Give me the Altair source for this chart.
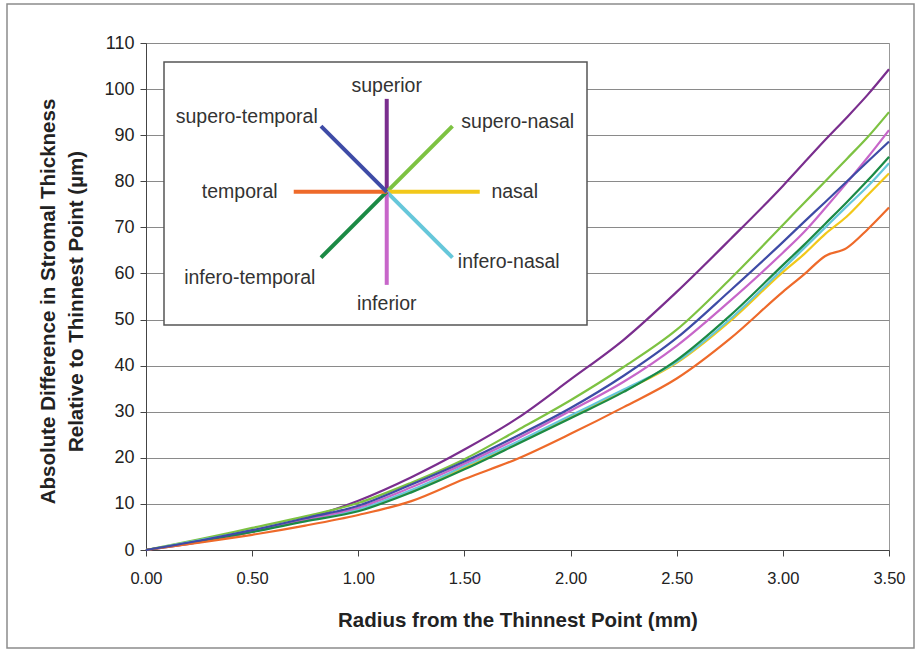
import math
import altair as alt
import pandas as pd

# ---------------- data ----------------
radius = [0, 0.25, 0.5, 0.75, 1.0, 1.25, 1.5, 1.75, 2.0, 2.25, 2.5, 2.75, 3.0, 3.1, 3.2, 3.3, 3.4, 3.5]

superior        = [0, 1.7, 4.0, 6.8, 10.7, 15.8, 21.8, 28.6, 37.0, 45.6, 56.0, 67.3, 79.0, 84.0, 89.0, 93.8, 98.8, 104.3]
supero_nasal    = [0, 2.3, 4.8, 7.3, 10.2, 14.6, 19.7, 26.0, 32.5, 39.7, 47.8, 58.7, 70.5, 75.3, 80.0, 84.8, 89.6, 95.0]
nasal           = [0, 2.0, 4.0, 6.4, 8.7, 12.8, 17.9, 23.2, 28.8, 34.5, 40.6, 49.6, 60.3, 64.2, 68.6, 72.3, 77.0, 81.7]
infero_nasal    = [0, 2.1, 4.2, 6.6, 8.8, 13.0, 18.2, 23.5, 29.2, 34.8, 40.8, 50.0, 61.0, 65.5, 70.0, 74.5, 78.9, 83.9]
inferior        = [0, 1.9, 4.0, 6.6, 9.2, 13.6, 18.7, 24.2, 30.2, 36.5, 44.3, 54.0, 64.5, 69.0, 74.2, 79.6, 85.2, 91.1]
infero_temporal = [0, 1.9, 3.9, 6.2, 8.4, 12.5, 17.5, 23.0, 28.6, 34.3, 41.2, 50.8, 61.8, 66.2, 70.8, 75.4, 80.2, 85.3]
temporal        = [0, 1.6, 3.3, 5.3, 7.6, 10.6, 15.4, 19.8, 25.2, 31.0, 37.2, 45.8, 56.0, 59.8, 63.8, 65.5, 69.6, 74.3]
supero_temporal = [0, 2.0, 4.3, 6.9, 9.6, 14.2, 19.2, 24.8, 30.8, 37.8, 46.0, 56.2, 66.8, 71.2, 75.5, 79.9, 84.3, 88.6]

names = ["superior", "supero-nasal", "nasal", "infero-nasal",
         "inferior", "infero-temporal", "temporal", "supero-temporal"]
series = [superior, supero_nasal, nasal, infero_nasal,
          inferior, infero_temporal, temporal, supero_temporal]
colors = ["#7A2E8E", "#7DC242", "#F2C81A", "#66C7DA",
          "#C766C9", "#1B8A45", "#EE6A2A", "#3E4BA6"]

x_ticks = [0, 0.5, 1.0, 1.5, 2.0, 2.5, 3.0, 3.5]
y_ticks = list(range(0, 111, 10))

# ---------------- layout ----------------
W, H = 743, 507
XMAX, YMAX = 3.5, 110
ux = XMAX / W   # data units per pixel
uy = YMAX / H

rows = []
for n, vals in zip(names, series):
    for r, v in zip(radius, vals):
        rows.append({"radius": r, "value": v, "dir": n})
df = pd.DataFrame(rows)

xs = alt.Scale(domain=[0, XMAX], nice=False, zero=False)
ys = alt.Scale(domain=[0, YMAX], nice=False)
cs = alt.Scale(domain=names, range=colors)

# compass-rose legend (inset)
cx, cy = 1.134, 77.7
ray_px = 93
angles = [90, 45, 0, -45, -90, -135, 180, 135]
label_off = [(0, -106), (131, -70), (128, 0), (122, 70),
             (0, 112), (-137, 86), (-147, 0), (-140, -75)]
leg = []
for n, a, (ox, oy) in zip(names, angles, label_off):
    ar = math.radians(a)
    leg.append({
        "dir": n,
        "x": cx, "y": cy,
        "x2": cx + ray_px * math.cos(ar) * ux,
        "y2": cy + ray_px * math.sin(ar) * uy,
        "lx": cx + ox * ux,
        "ly": cy - oy * uy,
    })
leg_df = pd.DataFrame(leg)

box_df = pd.DataFrame({"x": [(164 - 146) * ux], "x2": [(587 - 146) * ux],
                       "y": [(550 - 62) * uy], "y2": [(550 - 325) * uy]})

FONT = "Liberation Sans"

frame = alt.Chart(pd.DataFrame({"k": [0]})).mark_rect(
    fill="transparent", stroke="#8c8c8c", strokeWidth=1.5
).encode(
    x=alt.value(7 - 146), x2=alt.value(914 - 146),
    y=alt.value(4 - 43), y2=alt.value(648 - 43)
)

lines = alt.Chart(df).mark_line(strokeWidth=2.2, interpolate="monotone").encode(
    x=alt.X("radius:Q", scale=xs,
            axis=alt.Axis(values=x_ticks, format=".2f", grid=False, labelFlush=False,
                          title="Radius from the Thinnest Point (mm)",
                          titleY=70, titleBaseline="middle")),
    y=alt.Y("value:Q", scale=ys,
            axis=alt.Axis(values=y_ticks, grid=True, labelFlush=False,
                          title=["Absolute Difference in Stromal Thickness",
                                 "Relative to Thinnest Point (\u00b5m)"],
                          titleX=-98, titleY=258, titleBaseline="middle",
                          titleAngle=270, titleLineHeight=28)),
    color=alt.Color("dir:N", scale=cs, legend=None),
    detail="dir:N",
)

box = alt.Chart(box_df).mark_rect(fill="white", stroke="#555555", strokeWidth=1.5).encode(
    x=alt.X("x:Q", scale=xs), x2="x2:Q",
    y=alt.Y("y:Q", scale=ys), y2="y2:Q",
)

rays = alt.Chart(leg_df).mark_rule(strokeWidth=4).encode(
    x=alt.X("x:Q", scale=xs), x2="x2:Q",
    y=alt.Y("y:Q", scale=ys), y2="y2:Q",
    color=alt.Color("dir:N", scale=cs, legend=None),
)

labels = alt.Chart(leg_df).mark_text(
    font=FONT, fontSize=19.5, color="#333333", align="center", baseline="middle"
).encode(
    x=alt.X("lx:Q", scale=xs),
    y=alt.Y("ly:Q", scale=ys),
    text="dir:N",
)

chart = alt.layer(frame, lines, box, rays, labels).properties(
    width=W, height=H,
    autosize=alt.AutoSizeParams(type="none"),
    padding={"left": 146, "top": 43, "right": 32, "bottom": 108},
    background="white",
).configure_view(
    stroke="#999999", strokeWidth=1
).configure_axis(
    labelFont=FONT, titleFont=FONT,
    domainColor="#444444", tickColor="#444444", tickSize=6,
    labelColor="#222222", titleColor="#222222",
    gridColor="#8a8a8a", gridWidth=1,
    titleFontSize=20.5, titleFontWeight="bold",
).configure_axisX(
    labelFontSize=16.5, labelPadding=14
).configure_axisY(
    labelFontSize=18, labelPadding=6
)

chart.save("out.html", embed_options={"renderer": "svg", "actions": False})
